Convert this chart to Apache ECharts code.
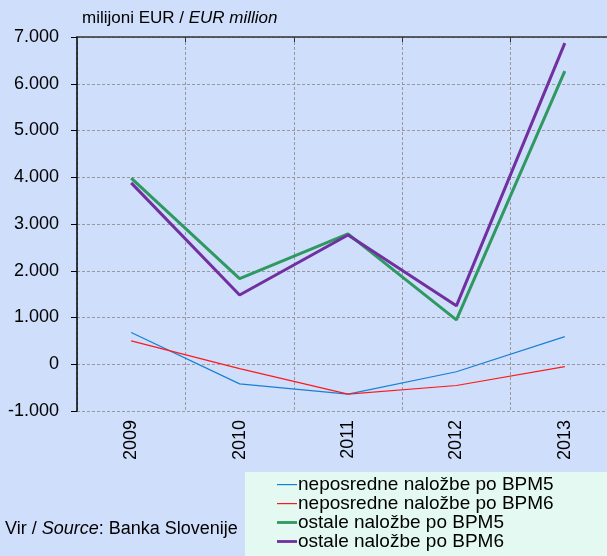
<!DOCTYPE html>
<html><head><meta charset="utf-8">
<script src="https://cdn.jsdelivr.net/npm/echarts@6/dist/echarts.min.js"></script>
<style>html,body{margin:0;padding:0;background:#cfdefa;overflow:hidden;width:607px;height:556px;}#c{width:620px;height:556px;}</style>
</head><body><div id="c"></div>
<script>
const categories = ['2009','2010','2011','2012','2013'];
const seriesNames = ['neposredne naložbe po BPM5','neposredne naložbe po BPM6','ostale naložbe po BPM5','ostale naložbe po BPM6'];
const neposredneBPM5 = [680, -420, -640, -160, 590];
const neposredneBPM6 = [500, -95, -640, -455, -50];
const ostaleBPM5 = [3980, 1830, 2790, 950, 6270];
const ostaleBPM6 = [3880, 1480, 2765, 1250, 6870];
const yMin = -1000, yMax = 7000, yStep = 1000;

const FONT = "'Liberation Sans',Arial,sans-serif";
const chart = echarts.init(document.getElementById('c'));
function fmt(v){ if (v === 0) return '0'; const s = Math.abs(v).toString().replace(/\B(?=(\d{3})+(?!\d))/g,'.'); return (v<0?'-':'')+s; }
const mk = (name, data, color, width) => ({
  name, type:'line', data, symbol:'none', xAxisIndex:0,
  lineStyle:{color, width}, itemStyle:{color}, animation:false, z: width>2?3:4
});
const thinIcon = 'path://M0,0L0,0M0,5.5L20,5.5L20,6.7L0,6.7ZM0,12L0,12';
const thickIcon = 'path://M0,0L0,0M0,4.6L20,4.6L20,7.4L0,7.4ZM0,12L0,12';
chart.setOption({
  backgroundColor:'#cfdefa',
  animation:false,
  grid:{left:77, right:1, top:37, bottom:145, containLabel:false},
  graphic:[
    {type:'rect', shape:{x:245,y:472,width:380,height:84}, style:{fill:'#e3f9f2'}, z:0},
    {type:'text', left:82, top:10, style:{rich:{n:{fontFamily:FONT,fontSize:17,fill:'#000'},i:{fontFamily:FONT,fontSize:17,fontStyle:'italic',fill:'#000'}}, text:'{n|milijoni EUR / }{i|EUR million}'}},
    {type:'text', left:5, top:520, style:{rich:{n:{fontFamily:FONT,fontSize:18,fill:'#000'},i:{fontFamily:FONT,fontSize:18,fontStyle:'italic',fill:'#000'}}, text:'{n|Vir / }{i|Source}{n|: Banka Slovenije}'}}
  ],
  legend:{
    orient:'vertical', left:277, top:475, padding:0, itemWidth:20, itemHeight:12, itemGap:0,
    textStyle:{fontFamily:FONT, fontSize:19, lineHeight:19, color:'#000', padding:[0,0,0,-4]},
    data:[
      {name:seriesNames[0], icon:thinIcon},
      {name:seriesNames[1], icon:thinIcon},
      {name:seriesNames[2], icon:thickIcon},
      {name:seriesNames[3], icon:thickIcon}
    ]
  },
  xAxis:[
    {type:'category', data:categories, position:'bottom', boundaryGap:true,
     axisLine:{show:false}, axisTick:{show:false},
     axisLabel:{rotate:90, fontFamily:FONT, fontSize:18, color:'#000', margin:9},
     splitLine:{show:true, lineStyle:{color:'#999', type:[3,2], width:1}}},
    {type:'category', data:categories, position:'top', boundaryGap:true,
     axisLine:{show:true, onZero:true, lineStyle:{color:'#333', width:1.5}},
     axisTick:{show:true, inside:true, length:5, lineStyle:{color:'#333'}},
     axisLabel:{show:false}, splitLine:{show:false}}
  ],
  yAxis:{type:'value', min:yMin, max:yMax, interval:yStep,
    axisLine:{show:true, lineStyle:{color:'#000', width:1.5}},
    axisTick:{show:true, length:6, lineStyle:{color:'#000'}},
    axisLabel:{formatter:fmt, fontFamily:FONT, fontSize:18, color:'#000', margin:18},
    splitLine:{show:true, lineStyle:{color:'#999', type:[3,2], width:1}}},
  series:[
    mk(seriesNames[0], neposredneBPM5, '#1a7fd4', 1.2),
    mk(seriesNames[1], neposredneBPM6, '#ff1a1a', 1.2),
    mk(seriesNames[2], ostaleBPM5, '#2e9960', 3),
    mk(seriesNames[3], ostaleBPM6, '#7030a0', 3)
  ]
});
</script></body></html>
